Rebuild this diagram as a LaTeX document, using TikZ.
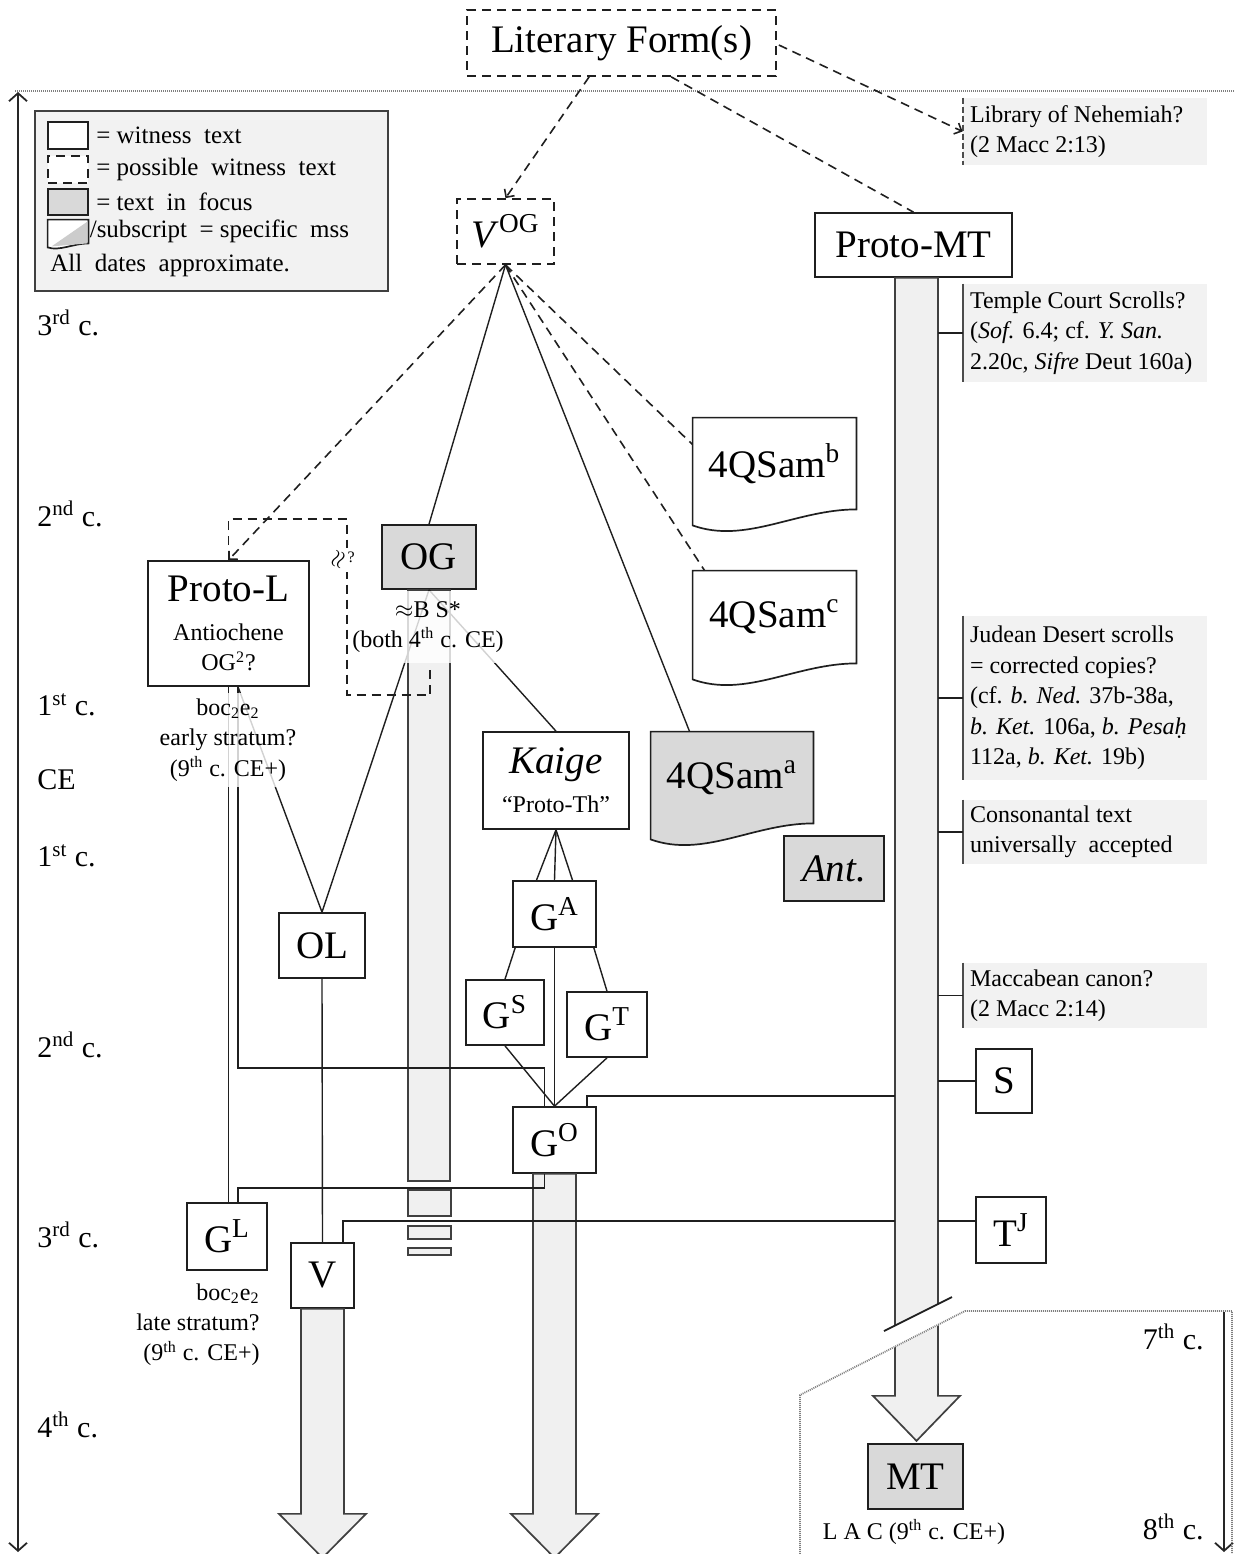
\documentclass[tikz,border=0pt]{standalone}
\usepackage{fontspec}
\setmainfont{Liberation Serif}
\usetikzlibrary{arrows.meta,positioning,calc,backgrounds}
\definecolor{focusc}{HTML}{D9D9D9}
\definecolor{shaftc}{HTML}{F0F0F0}
\definecolor{notec}{HTML}{F2F2F2}
\definecolor{edgec}{HTML}{1F1F1F}
\definecolor{dotc}{HTML}{7F7F7F}
\newcommand{\bigsz}{\fontsize{19.5}{22}\selectfont}
\newcommand{\smsz}{\fontsize{12}{15.2}\selectfont}
\newcommand{\lgsz}{\fontsize{12.5}{15.2}\selectfont}
\newcommand{\censz}{\fontsize{15}{18}\selectfont}
\newcommand{\docshape}[2]{%
  \begin{scope}[on background layer]
    \draw[docline,fill=#2] (#1.north west) -- (#1.north east) -- (#1.south east)
      .. controls +(-60,0) and +(53,19) .. ($(#1.south west)+(0,16)$) -- cycle;
  \end{scope}}
\tikzset{
  >={Straight Barb[length=3pt,width=6pt]},
  wh/.style 2 args={minimum width=#1*0.5pt,minimum height=#2*0.5pt},
  wit/.style={draw=edgec,line width=0.85pt,fill=white,inner sep=0pt,font=\bigsz,align=center},
  poss/.style={wit,dash pattern=on 4.5pt off 3pt},
  focus/.style={wit,fill=focusc},
  docnode/.style={inner sep=0pt,font=\bigsz},
  docline/.style={draw=edgec,line width=0.85pt},
  link/.style={draw=edgec,line width=0.7pt},
  plink/.style={link,line width=0.8pt,dash pattern=on 4.5pt off 3pt},
  shaft/.style={draw=black!75,line width=0.85pt,fill=shaftc},
  note/.style={fill=notec,inner xsep=3.5pt,inner ysep=0pt,text width=115pt,align=flush left,font=\smsz},
  nbar/.style={draw=black!70,line width=1pt},
  sub/.style={font=\smsz,align=center,inner sep=1pt},
  cent/.style={font=\censz,anchor=west,inner sep=0pt},
  lgtext/.style={font=\lgsz,anchor=west,inner sep=0pt},
  tline/.style={draw=black!85,line width=0.9pt},
  dotl/.style={draw=dotc,line width=0.9pt,dash pattern=on 0.5pt off 0.5pt},
}

\begin{document}
\begin{tikzpicture}[x=0.5pt,y=-0.5pt]
  \useasboundingbox (0,0) rectangle (1235,1554);
  % time axes
  \draw[dotl] (15,91) -- (1235,91);
  \draw[tline,{Straight Barb[length=4pt,width=9pt]}-{Straight Barb[length=4pt,width=9pt]}] (18,92) -- (18,1552);
  \draw[tline,-{Straight Barb[length=4pt,width=9pt]}] (1224,1312) -- (1224,1552);
  \foreach \y/\lab [count=\i] in {323/3\textsuperscript{rd} c., 514/2\textsuperscript{nd} c., 705/1\textsuperscript{st} c., 780/CE, 856/1\textsuperscript{st} c., 1045/2\textsuperscript{nd} c., 1235/3\textsuperscript{rd} c., 1425/4\textsuperscript{th} c.}
    \node[cent] (c\i) at (37,\y) {\lab};
  \node[cent,anchor=east] (c9) at (1204,1337) {7\textsuperscript{th} c.};
  \node[cent,anchor=east] (c10) at (1204,1527) {8\textsuperscript{th} c.};

  % legend
  \node[draw=black!75,line width=0.85pt,fill=notec,wh={353}{180}] (legend) at (211.5,201) {};
  \node[wit,wh={40}{27}] (lg1) at (68,135.5) {};
  \node[poss,wh={40}{27}] (lg2) at (68,169.5) {};
  \node[focus,wh={40}{26}] (lg3) at (68,202) {};
  \node[inner sep=0pt,wh={40}{23}] (lg4) at (68,231.5) {};
  \draw[docline,fill=white] (lg4.north west) -- (lg4.north east) -- (lg4.south east)
    .. controls +(-15,0) and +(12,4) .. ($(lg4.south west)+(0,4)$) -- cycle;
  \fill[gray!40] ($(lg4.south west)+(4,3)$) -- ($(lg4.north east)+(-1,2)$) -- ($(lg4.south east)+(-1,0)$) -- cycle;
  \node[lgtext,right=3.5pt of lg1] (lt1) {= witness\ \ text};
  \node[lgtext,right=3.5pt of lg2] (lt2) {= possible\ \ witness\ \ text};
  \node[lgtext,right=3.5pt of lg3] (lt3) {= text\ \ in\ \ focus};
  \node[lgtext,right=0.5pt of lg4] (lt4) {/subscript\ \ = specific\ \ mss};
  \node[lgtext] (lt5) at (50,265) {All\ \ dates\ \ approximate.};

  % witnesses
  \node[poss,wh={309}{66}] (lit) at (621.5,43) {Literary Form(s)};
  \node[poss,wh={97}{65}] (vog) at (505.5,231.5) {\textit{V}\textsuperscript{OG}};
  \node[wit,wh={197}{64}] (pmt) at (913.5,245) {Proto-MT};
  \node[wit,wh={161}{125},font=\smsz] (protol) at (228.5,623.5) {{\bigsz Proto-L}\\[4.3pt]Antiochene\\OG\textsuperscript{2}?};
  \node[focus,wh={94}{64}] (og) at (429,557) {OG};
  \node[wit,wh={146}{97}] (kaige) at (556,780.5) {\textit{Kaige}\\[-2.5pt]{\smsz “Proto-Th”}};
  \node[docnode,wh={163}{91}] (qb) at (774.5,463.5) {4QSam\textsuperscript{b}};
  \node[docnode,wh={163}{92}] (qc) at (774.5,617) {4QSam\textsuperscript{c}};
  \node[docnode,wh={162}{91}] (qa) at (732,777.5) {4QSam\textsuperscript{a}};
  \docshape{qb}{white}
  \docshape{qc}{white}
  \docshape{qa}{focusc}
  \node[focus,wh={100}{65}] (ant) at (834,868.5) {\textit{Ant.}};
  \node[wit,wh={83}{66}] (ga) at (554.5,914) {G\textsuperscript{A}};
  \node[wit,wh={78}{65}] (gs) at (505,1012.5) {G\textsuperscript{S}};
  \node[wit,wh={80}{65}] (gt) at (607,1024.5) {G\textsuperscript{T}};
  \node[wit,wh={83}{66}] (go) at (554.5,1140) {G\textsuperscript{O}};
  \node[wit,wh={86}{65}] (ol) at (322,945.5) {OL};
  \node[wit,wh={80}{67}] (gl) at (227,1236.5) {G\textsuperscript{L}};
  \node[wit,wh={63}{65}] (v) at (322.5,1275.5) {V};
  \node[wit,wh={56}{64}] (s) at (1004,1081) {S};
  \node[wit,wh={70}{66}] (tj) at (1011,1230) {T\textsuperscript{J}};
  \node[focus,wh={95}{65}] (mt) at (915.5,1476.5) {MT};

  % notes on the MT line
  \node[note,wh={244}{67}] (nlib) at (1085,131.5) {Library of Nehemiah?\\(2 Macc 2:13)};
  \node[note,wh={244}{98}] (ntmp) at (1085,333) {Temple Court Scrolls?\\(\textit{Sof.} 6.4; cf. \textit{Y. San.}\\2.20c, \textit{Sifre} Deut 160a)};
  \node[note,wh={244}{164}] (njud) at (1085,698) {Judean Desert scrolls\\= corrected copies?\\(cf. \textit{b. Ned.} 37b-38a,\\\textit{b. Ket.} 106a, \textit{b. Pesaḥ}\\112a, \textit{b. Ket.} 19b)};
  \node[note,wh={244}{64}] (ncon) at (1085,832) {Consonantal text\\universally\ \ accepted};
  \node[note,wh={244}{65}] (nmac) at (1085,995.5) {Maccabean canon?\\(2 Macc 2:14)};
  \draw[nbar,dash pattern=on 3pt off 1.5pt] (nlib.north west) -- (nlib.south west);
  \foreach \n in {ntmp,njud,ncon,nmac} \draw[nbar] (\n.north west) -- (\n.south west);

  % transmission shafts
  \draw[shaft] ($(og.south)+(-21,0)$) rectangle ++(42,591);
  \foreach \a/\b in {1190/1216,1226/1239,1248/1255} \draw[shaft] (408,\a) rectangle (451,\b);
  \draw[shaft] ($(v.south)+(-21.5,0)$) -- ++(0,205) -- ++(-22,0) -- ++(43.5,44) -- ++(43.5,-44) -- ++(-22,0) -- ++(0,-205) -- cycle;
  \draw[shaft] ($(go.south)+(-21.5,0)$) -- ++(0,340) -- ++(-22,0) -- ++(43.5,44) -- ++(43.5,-44) -- ++(-22,0) -- ++(0,-340) -- cycle;
  \draw[shaft] ($(pmt.south)+(-18.5,0)$) -- ++(0,1118) -- ++(-22,0) -- ++(43.5,45) -- ++(43.5,-45) -- ++(-22,0) -- ++(0,-1118) -- cycle;
  \fill[white] (870,1338.5) -- (960,1293.5) -- (960,1314.5) -- (870,1359.5) -- cycle;
  \draw[link,line width=0.9pt] (884,1331) -- (952,1297);
  \draw[dotl] (800,1554) -- (800,1395) -- (965,1311) -- (1232,1311) -- (1232,1554);
  \coordinate (mtL) at (895,277);
  \coordinate (mtR) at (938,277);
  \coordinate (jgo) at (895,1096);
  \coordinate (jv) at (895,1221);
  \coordinate (jtj) at ($(tj.west)+(0,-9)$);

  % links
  \draw[plink,->] ($(lit.south west)+(123,0)$) -- (vog.north);
  \draw[plink] ($(lit.south west)+(205,0)$) -- (pmt.north);
  \draw[plink,->] ($(lit.east)+(2,2)$) -- (nlib.west);
  \draw[plink,->] (vog.south) -- (protol.north);
  \draw[link] (vog.south) -- (og.north);
  \draw[link] (vog.south) -- ($(qa.north west)+(39,0)$);
  \draw[plink] (vog.south) -- ($(qb.north west)+(0,27)$);
  \draw[plink] (vog.south) -- ($(qc.north west)+(12,0)$);
  \draw[plink] (protol.north) -- ++(0,-41) -- ++(118.5,0) -- ++(0,176) -- ++(83,0) -- ++(0,-31);
  \draw[link] (og.south) -- (ol.north);
  \draw[link] (og.south) -- (kaige.north);
  \draw[link] ($(protol.south)+(9.5,0)$) -- (ol.north);
  \draw[link] (protol.south) -- (protol.south |- gl.north);
  \draw[link] ($(protol.south)+(9.5,0)$) -- ++(0,381) -| ($(go.north)+(-10,0)$);
  \draw[link] (ol.south) -- (v.north);
  \foreach \dx in {-18,0,18} \draw[link] (kaige.south) -- ($(ga.north)+(\dx,0)$);
  \draw[link] ($(ga.south west)+(3,0)$) -- (gs.north);
  \draw[link] ($(ga.south east)+(-3,0)$) -- (gt.north);
  \draw[link] (ga.south) -- (go.north);
  \draw[link] (gs.south) -- (go.north);
  \draw[link] (gt.south) -- (go.north);
  \draw[link] ($(go.south)+(-10,0)$) -- ++(0,14) -| ($(gl.north)+(11,0)$);
  \draw[link] ($(go.north east)+(-10,0)$) |- (jgo);
  \draw[link] ($(v.north east)+(-12,0)$) |- (jv);
  \foreach \n in {ntmp,njud,ncon,nmac} \draw[link] (\n.west) -- (\n.west -| mtR);
  \draw[link] (s.west) -- (s.west -| mtR);
  \draw[link] (jtj) -- (jtj -| mtR);

  % dates and manuscripts
  \node[sub,fill=white,fill opacity=0.8,text opacity=1,wh={160}{72}] (ogtxt) at (428,627) {$\approx$B S*\\(both 4\textsuperscript{th} c. CE)};
  \node[sub,fill=white,fill opacity=0.8,text opacity=1,wh={150}{94}] (pltxt) at (228,740) {boc\textsubscript{2}e\textsubscript{2}\\early stratum?\\(9\textsuperscript{th} c. CE+)};
  \node[sub,align=right,anchor=north east] (gltxt) at (262,1281) {boc\textsubscript{2}e\textsubscript{2}\\late stratum?\\(9\textsuperscript{th} c. CE+)};
  \node[sub] (lac) at (914,1532) {L A C (9\textsuperscript{th} c. CE+)};
  \node[inner sep=0.5pt,fill=white,font=\smsz] (eqq) at (343,560) {\rotatebox{70}{$\approx$}\textsuperscript{?}};
\end{tikzpicture}
\end{document}
